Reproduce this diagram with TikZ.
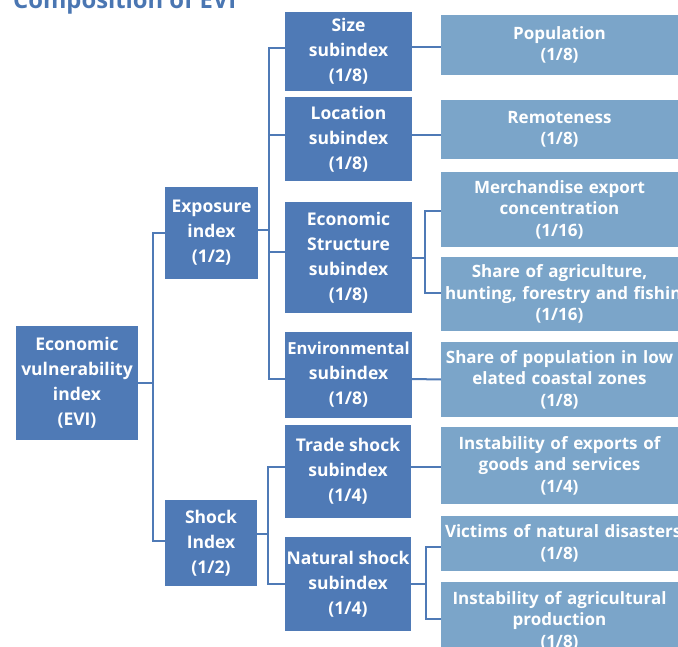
\documentclass[tikz,border=0pt]{standalone}
\usepackage{fontspec}
\setmainfont{Open Sans}
\definecolor{dblue}{RGB}{79,122,182}
\definecolor{lblue}{RGB}{123,165,201}
\definecolor{tblue}{RGB}{74,118,178}
\begin{document}
\begin{tikzpicture}[x=1pt,y=-1pt,
  dbox/.style={fill=dblue, text=white, font=\bfseries\fontsize{17.5}{25}\selectfont, align=center, inner sep=0pt},
  lbox/.style={fill=lblue, text=white, font=\bfseries\fontsize{17}{21.5}\selectfont, align=center, inner ysep=0pt, inner xsep=4pt, text width=229pt},
  conn/.style={draw=dblue, line width=2pt}]
\useasboundingbox (0,0) rectangle (678,647);
\clip (0,0) rectangle (678,647);
% title (cut off by the top edge)
\node[anchor=base west, inner sep=0pt, text=tblue, font=\bfseries\fontsize{23.8}{28}\selectfont] (title) at (13,8.5) {Composition of EVI};
% level 0
\node[dbox, minimum width=122pt, minimum height=114pt] (evi) at (77,383) {Economic\\vulnerability\\index\\(EVI)};
% level 1
\node[dbox, minimum width=93pt, minimum height=92pt] (exp) at (211.5,233) {Exposure\\index\\(1/2)};
\node[dbox, minimum width=92pt, minimum height=86pt] (shock) at (211,543) {Shock\\Index\\(1/2)};
% level 2
\node[dbox, minimum width=127pt, minimum height=79pt] (size) at (348.5,51.5) {Size\\subindex\\(1/8)};
\node[dbox, minimum width=127pt, minimum height=84pt] (loc) at (348.5,139) {Location\\subindex\\(1/8)};
\node[dbox, minimum width=127pt, minimum height=111pt] (econ) at (348.5,257.5) {Economic\\Structure\\subindex\\(1/8)};
\node[dbox, minimum width=127pt, minimum height=86pt] (env) at (348.5,375) {{\fontsize{16.6}{25}\selectfont Environmental}\\subindex\\(1/8)};
\node[dbox, minimum width=126pt, minimum height=93pt] (trade) at (348,471.5) {Trade shock\\subindex\\(1/4)};
\node[dbox, minimum width=126pt, minimum height=94pt] (nat) at (348,584) {Natural shock\\subindex\\(1/4)};
% level 3
\node[lbox, minimum height=60pt] (pop) at (559.5,45) {Population\\(1/8)};
\node[lbox, minimum height=59pt] (rem) at (559.5,129.5) {Remoteness\\(1/8)};
\node[lbox, minimum height=75pt] (merch) at (559.5,209.5) {Merchandise export\\concentration\\(1/16)};
\node[lbox, minimum height=74pt] (agri) at (559.5,294) {Share of agriculture,\\\mbox{hunting, forestry and fishing}\\(1/16)};
\node[lbox, minimum height=75pt] (lowpop) at (559.5,379.5) {Share of population in low\\elated coastal zones\\(1/8)};
\node[lbox, minimum height=77pt] (instexp) at (559.5,465.5) {Instability of exports of\\goods and services\\(1/4)};
\node[lbox, minimum height=55pt] (vict) at (559.5,543.5) {\mbox{Victims of natural disasters}\\(1/8)};
\node[lbox, minimum height=77pt] (instagr) at (559.5,620.5) {Instability of agricultural\\production\\(1/8)};
% junctions
\coordinate (j1) at (153,383);
\coordinate (j2) at (269,230);
\coordinate (j3) at (425,258);
\coordinate (j4) at (268,534);
\coordinate (j5) at (426,584);
% connectors
\draw[conn] (evi.east) -- (j1);
\draw[conn] (exp.west) -| (j1) |- ([yshift=2pt]shock.west);
\draw[conn] ([yshift=3pt]exp.east) -- (j2);
\draw[conn] ([yshift=3.5pt]size.west) -| (j2);
\draw[conn] ([yshift=4pt]loc.west) -| (j2);
\draw[conn] ([yshift=5.5pt]econ.west) -| (j2);
\draw[conn] ([yshift=-4pt]env.west) -| (j2);
\draw[conn] ([yshift=4.5pt]size.east) -- ([yshift=-2pt]pop.west);
\draw[conn] ([yshift=4pt]loc.east) -- ([yshift=-5.5pt]rem.west);
\draw[conn] ([yshift=-0.5pt]econ.east) -- (j3);
\draw[conn] ([yshift=-1.5pt]merch.west) -| (j3);
\draw[conn] ([yshift=1pt]agri.west) -| (j3);
\draw[conn] ([yshift=-4pt]env.east) -- (lowpop.west);
\draw[conn] ([yshift=9pt]shock.east) -- (j4);
\draw[conn] ([yshift=4.5pt]trade.west) -| (j4);
\draw[conn] (nat.west) -| (j4);
\draw[conn] ([yshift=4.5pt]trade.east) -- ([yshift=-1.5pt]instexp.west);
\draw[conn] (nat.east) -- (j5);
\draw[conn] ([yshift=-3.5pt]vict.west) -| (j5);
\draw[conn] ([yshift=1.5pt]instagr.west) -| (j5);
\end{tikzpicture}
\end{document}
